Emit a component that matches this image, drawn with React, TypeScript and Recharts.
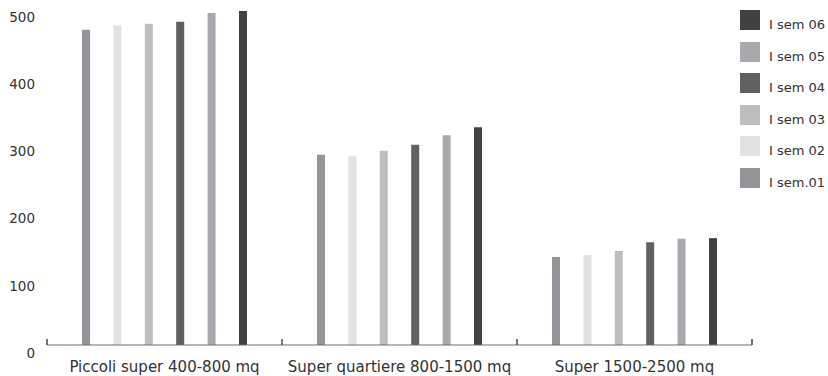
import { Bar, BarChart, Legend, XAxis, YAxis } from "recharts";

const categories = [
  "Piccoli super 400-800 mq",
  "Super quartiere 800-1500 mq",
  "Super 1500-2500 mq",
];

const sem01 = [469, 283, 131];
const sem02 = [476, 281, 134];
const sem03 = [478, 289, 140];
const sem04 = [481, 298, 153];
const sem05 = [494, 312, 158];
const sem06 = [497, 324, 159];

const yTicks = [0, 100, 200, 300, 400, 500];

const series = [
  { key: "s01", name: "I sem.01", values: sem01, color: "#939598" },
  { key: "s02", name: "I sem 02", values: sem02, color: "#e1e2e3" },
  { key: "s03", name: "I sem 03", values: sem03, color: "#bcbec0" },
  { key: "s04", name: "I sem 04", values: sem04, color: "#606062" },
  { key: "s05", name: "I sem 05", values: sem05, color: "#a7a9ac" },
  { key: "s06", name: "I sem 06", values: sem06, color: "#414042" },
];

const chartData = categories.map((name, i) => {
  const row: Record<string, string | number> = { name };
  series.forEach((s) => {
    row[s.key] = s.values[i];
  });
  return row;
});

const FONT = "'DejaVu Sans', sans-serif";
const TEXT = "#333333";
const LABEL_GAP = 16;

// category label plus the small upright marks on the band edges
const XTick = (props: any) => {
  const { x, y, width, visibleTicksCount, index, payload } = props;
  const band = width / visibleTicksCount;
  const axisY = y - LABEL_GAP;
  const edges = [x - band / 2];
  if (index === visibleTicksCount - 1) edges.push(x + band / 2);
  return (
    <g>
      {edges.map((ex) => (
        <line
          key={ex}
          x1={ex}
          x2={ex}
          y1={axisY}
          y2={axisY - 6}
          stroke="#4a4a4c"
          strokeWidth={1.5}
        />
      ))}
      <text
        x={x}
        y={y}
        dy="0.71em"
        textAnchor="middle"
        fontFamily={FONT}
        fontSize={15}
        fill={TEXT}
      >
        {payload.value}
      </text>
    </g>
  );
};

// legend shows the newest semester on top
const LegendBox = (props: any) => {
  const order = series.map((s) => s.name);
  const items = [...(props.payload || [])].sort(
    (a: any, b: any) => order.indexOf(b.value) - order.indexOf(a.value)
  );
  return (
    <div style={{ fontFamily: FONT, fontSize: 13, color: TEXT }}>
      {items.map((item: any) => (
        <div
          key={item.value}
          style={{ display: "flex", alignItems: "flex-start", height: 31.6 }}
        >
          <span
            style={{
              display: "inline-block",
              width: 20,
              height: 20,
              background: item.color,
              marginRight: 9,
            }}
          />
          <span style={{ lineHeight: "20px", paddingTop: 5, whiteSpace: "nowrap" }}>
            {item.value}
          </span>
        </div>
      ))}
    </div>
  );
};

const App = () => {
  return (
    <div>
      <style>{"body{margin:0}"}</style>
      <BarChart
        width={828}
        height={376}
        data={chartData}
        margin={{ top: 9, right: 76, left: 0, bottom: 0 }}
        barSize={8}
        barGap={23.4}
      >
        <XAxis
          dataKey="name"
          height={31}
          tickLine={false}
          tickSize={0}
          tickMargin={LABEL_GAP}
          axisLine={{ stroke: "#6d6e70", strokeWidth: 1.2 }}
          tick={<XTick />}
          interval={0}
        />
        <YAxis
          width={47}
          domain={[0, 500]}
          ticks={yTicks}
          axisLine={false}
          tickLine={false}
          tickSize={0}
          tickMargin={12}
          tick={{ fontFamily: FONT, fontSize: 13.5, fill: TEXT, dy: 8 }}
        />
        <Legend
          layout="vertical"
          align="center"
          verticalAlign="middle"
          wrapperStyle={{ left: 740, top: 10, width: 88 }}
          content={LegendBox}
        />
        {series.map((s) => (
          <Bar
            key={s.key}
            dataKey={s.key}
            name={s.name}
            fill={s.color}
            isAnimationActive={false}
          />
        ))}
      </BarChart>
    </div>
  );
};

export default App;
